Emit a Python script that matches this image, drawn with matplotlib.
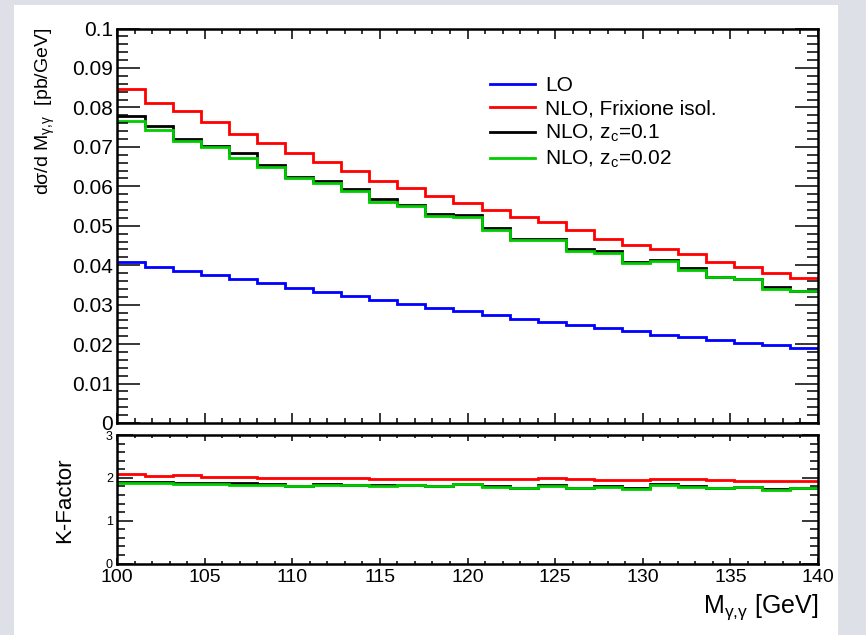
import matplotlib
matplotlib.use("Agg")
import matplotlib.pyplot as plt
import numpy as np
from matplotlib.patches import Rectangle
from matplotlib.ticker import MultipleLocator

plt.rcParams['font.family'] = ['Liberation Sans', 'DejaVu Sans']
plt.rcParams['mathtext.fontset'] = 'custom'
plt.rcParams['mathtext.rm'] = 'Liberation Sans'
plt.rcParams['mathtext.it'] = 'Liberation Sans:italic'
plt.rcParams['mathtext.default'] = 'regular'

# binning: 25 bins of 1.6 GeV between 100 and 140
m_lo, m_hi, n_bins = 100, 140, 25

# d(sigma)/dM in pb/GeV
lo = [0.0407, 0.0395, 0.0385, 0.0376, 0.0365, 0.0354, 0.0343, 0.0332, 0.0321,
      0.0311, 0.0301, 0.0292, 0.0283, 0.0273, 0.0264, 0.0256, 0.0248, 0.0240,
      0.0232, 0.0223, 0.0217, 0.0210, 0.0204, 0.0197, 0.0191]
nlo_frixione = [0.0846, 0.0811, 0.0791, 0.0763, 0.0733, 0.0710, 0.0685, 0.0661,
                0.0640, 0.0614, 0.0595, 0.0576, 0.0557, 0.0541, 0.0522, 0.0509,
                0.0489, 0.0467, 0.0452, 0.0440, 0.0429, 0.0407, 0.0395, 0.0380,
                0.0367]
nlo_zc01 = [0.0778, 0.0754, 0.0721, 0.0703, 0.0684, 0.0653, 0.0624, 0.0614,
            0.0592, 0.0569, 0.0552, 0.0530, 0.0527, 0.0495, 0.0466, 0.0467,
            0.0440, 0.0435, 0.0407, 0.0412, 0.0393, 0.0371, 0.0365, 0.0344,
            0.0335]
nlo_zc002 = [0.0765, 0.0742, 0.0714, 0.0700, 0.0671, 0.0650, 0.0620, 0.0608,
             0.0587, 0.0561, 0.0549, 0.0525, 0.0523, 0.0490, 0.0464, 0.0464,
             0.0437, 0.0430, 0.0405, 0.0410, 0.0388, 0.0370, 0.0364, 0.0340,
             0.0335]

labels = ['LO', 'NLO, Frixione isol.', 'NLO, z$_c$=0.1', 'NLO, z$_c$=0.02']
colors = ['#0000ff', '#ff0000', '#000000', '#00cc00']

edges = np.linspace(m_lo, m_hi, n_bins + 1)
series = [np.array(lo), np.array(nlo_frixione), np.array(nlo_zc01), np.array(nlo_zc002)]

W, H = 866, 635
fig = plt.figure(figsize=(W / 100, H / 100), dpi=100)
fig.patch.set_facecolor('#dde1e7')
fig.patches.append(Rectangle((14 / W, 0), (838 - 14) / W, 1 - 5 / H,
                             transform=fig.transFigure, facecolor='white',
                             edgecolor='none', zorder=-10))


def px_axes(x0, y0, x1, y1):
    return fig.add_axes([x0 / W, 1 - y1 / H, (x1 - x0) / W, (y1 - y0) / H])


ax_low = px_axes(117, 435, 818, 563.5)
ax = px_axes(117, 28.5, 818, 423)

for a in (ax, ax_low):
    for s in a.spines.values():
        s.set_linewidth(1.8)
    a.set_xlim(m_lo, m_hi)
    a.xaxis.set_major_locator(MultipleLocator(5))
    a.xaxis.set_minor_locator(MultipleLocator(1))
    a.tick_params(which='both', direction='in', top=True, right=True, width=1.1)

# upper panel
for vals, lab, col in zip(series, labels, colors):
    ax.stairs(vals, edges, baseline=None, color=col, lw=2, label=lab)
ax.set_ylim(0, 0.1)
ax.yaxis.set_major_locator(MultipleLocator(0.01))
ax.yaxis.set_minor_locator(MultipleLocator(0.002))
ax.tick_params(axis='y', which='major', length=16.5, labelsize=15, pad=3)
ax.tick_params(axis='y', which='minor', length=8)
ax.tick_params(axis='x', which='major', length=7.2, labelbottom=False)
ax.tick_params(axis='x', which='minor', length=3.6)
ax.yaxis.set_major_formatter(lambda v, p: '0' if abs(v) < 1e-9 else ('%g' % round(v, 3)))

ax.legend(loc='upper left', bbox_to_anchor=((490 - 117) / 701, 1 - (76 - 28.5) / 394.5),
          frameon=False, fontsize=15, handlelength=2.15, handletextpad=0.48,
          borderpad=0, borderaxespad=0, labelspacing=0.22)

# lower panel: K-factor = NLO / LO
for vals, col in zip(series[1:], colors[1:]):
    ax_low.stairs(vals / series[0], edges, baseline=None, color=col, lw=2)
ax_low.set_ylim(0, 3)
ax_low.yaxis.set_major_locator(MultipleLocator(1))
ax_low.yaxis.set_minor_locator(MultipleLocator(0.2))
ax_low.tick_params(axis='y', which='major', length=11.5, labelsize=9, pad=3)
ax_low.tick_params(axis='y', which='minor', length=5.8)
ax_low.tick_params(axis='x', which='major', length=4.5, labelsize=14, pad=4)
ax_low.tick_params(axis='x', which='minor', length=2.5)

fig.text(45 / W, 1 - 28 / H, 'dσ/d M$_{γ{,}γ}$  [pb/GeV]', rotation=90,
         ha='center', va='top', fontsize=14)
fig.text(65 / W, 1 - 500 / H, 'K-Factor', rotation=90, ha='center', va='center',
         fontsize=16)
fig.text(818 / W, 1 - 607 / H, 'M$_{γ{,}γ}$ [GeV]', ha='right', va='center',
         fontsize=18)

fig.savefig('out.png', dpi=100, facecolor=fig.get_facecolor())
